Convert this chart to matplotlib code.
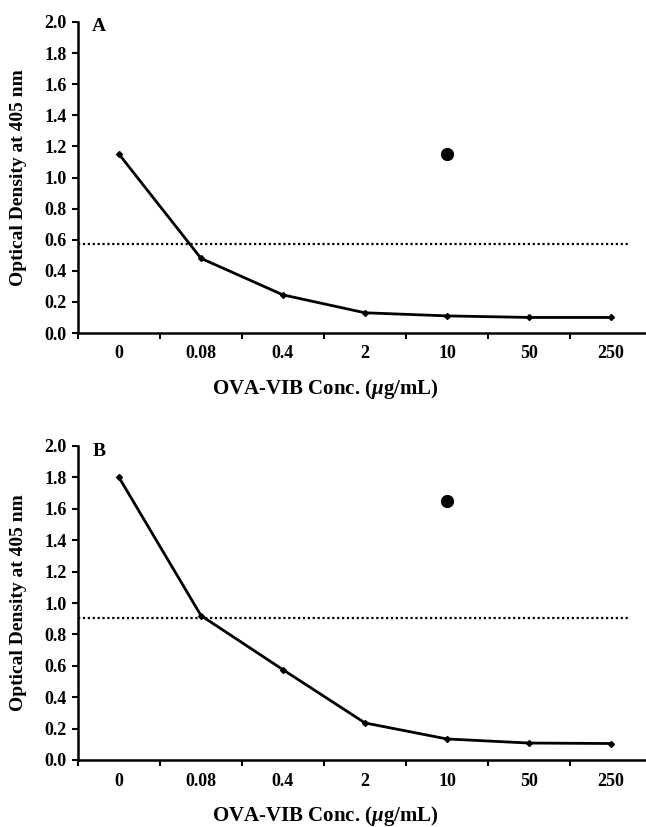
import matplotlib
matplotlib.use("Agg")
import matplotlib.pyplot as plt
import numpy as np

# Data
conc_labels = ["0", "0.08", "0.4", "2", "10", "50", "250"]
od_A = [1.15, 0.48, 0.245, 0.13, 0.11, 0.10, 0.10]
od_B = [1.80, 0.92, 0.575, 0.236, 0.134, 0.108, 0.105]
cutoff_A = 0.57
cutoff_B = 0.905
# separate reference point (shown at the "10" column)
ref_idx = 4
ref_A = 1.15
ref_B = 1.65
panel_names = ["A", "B"]

plt.rcParams['font.family'] = ['Liberation Serif', 'DejaVu Serif']
plt.rcParams['font.weight'] = 'bold'
plt.rcParams['mathtext.fontset'] = 'custom'
plt.rcParams['mathtext.it'] = 'Liberation Serif:italic:bold'
plt.rcParams['mathtext.rm'] = 'Liberation Serif:bold'

W, H = 646, 827
fig = plt.figure(figsize=(W / 100, H / 100), dpi=100)

# axes boxes in pixels: left, top(y of 2.0), bottom(y of 0.0)
boxes = [(78, 22, 333), (78, 446, 760)]
axis_w = 574

def DrawPanel(ax, values, cutoff, ref_val, name):
    '''
    Draw one panel of the OD curve
    '''
    x = np.arange(len(conc_labels))
    ax.plot(x, values, color="black", lw=2.0, marker="D", markersize=3, zorder=3)
    ax.plot([x[ref_idx]], [ref_val], "o", color="black", markersize=8.5, zorder=3)
    ax.axhline(cutoff, xmin=0, xmax=0.962, color="black", lw=1.6, ls=(0, (1, 1.2)), zorder=2)

    ax.set_xlim(-0.5, len(conc_labels) - 0.5)
    ax.set_ylim(0, 2.0)
    ax.set_yticks(np.arange(0, 2.01, 0.2))
    ax.set_yticklabels(["%.1f" % v for v in np.arange(0, 2.01, 0.2)], fontsize=13, fontweight="bold")

    # ticks at category boundaries, labels at centers
    ax.set_xticks(np.arange(-0.5, len(conc_labels) - 0.5 + 0.01, 1.0))
    ax.set_xticklabels([])
    ax.set_xticks(x, minor=True)
    ax.set_xticklabels(conc_labels, minor=True, fontsize=13, fontweight="bold")
    ax.tick_params(axis="x", which="minor", length=0, pad=9)
    ax.tick_params(axis="x", which="major", length=4, width=1.5, direction="out")
    ax.tick_params(axis="y", length=4, width=1.5, direction="out", pad=4)

    for s in ["top", "right"]:
        ax.spines[s].set_visible(False)
    for s in ["left", "bottom"]:
        ax.spines[s].set_linewidth(1.8)

    ax.set_ylabel("Optical Density at 405 nm", fontsize=14, fontweight="bold")
    ax.yaxis.set_label_coords(-0.088, 0.5)
    ax.set_xlabel(r"OVA-VIB Conc. ($\mu$g/mL)", fontsize=15, fontweight="bold")
    ax.xaxis.set_label_coords(0.43, -0.14)

    ax.text(0.036, 0.984, name, transform=ax.transAxes, fontsize=14, fontweight="bold",
            ha="center", va="center")

for i, (left, top, bottom) in enumerate(boxes):
    ax = fig.add_axes([left / W, (H - bottom) / H, axis_w / W, (bottom - top) / H])
    vals = od_A if i == 0 else od_B
    cut = cutoff_A if i == 0 else cutoff_B
    ref = ref_A if i == 0 else ref_B
    DrawPanel(ax, vals, cut, ref, panel_names[i])

fig.savefig("out.png", dpi=100)
